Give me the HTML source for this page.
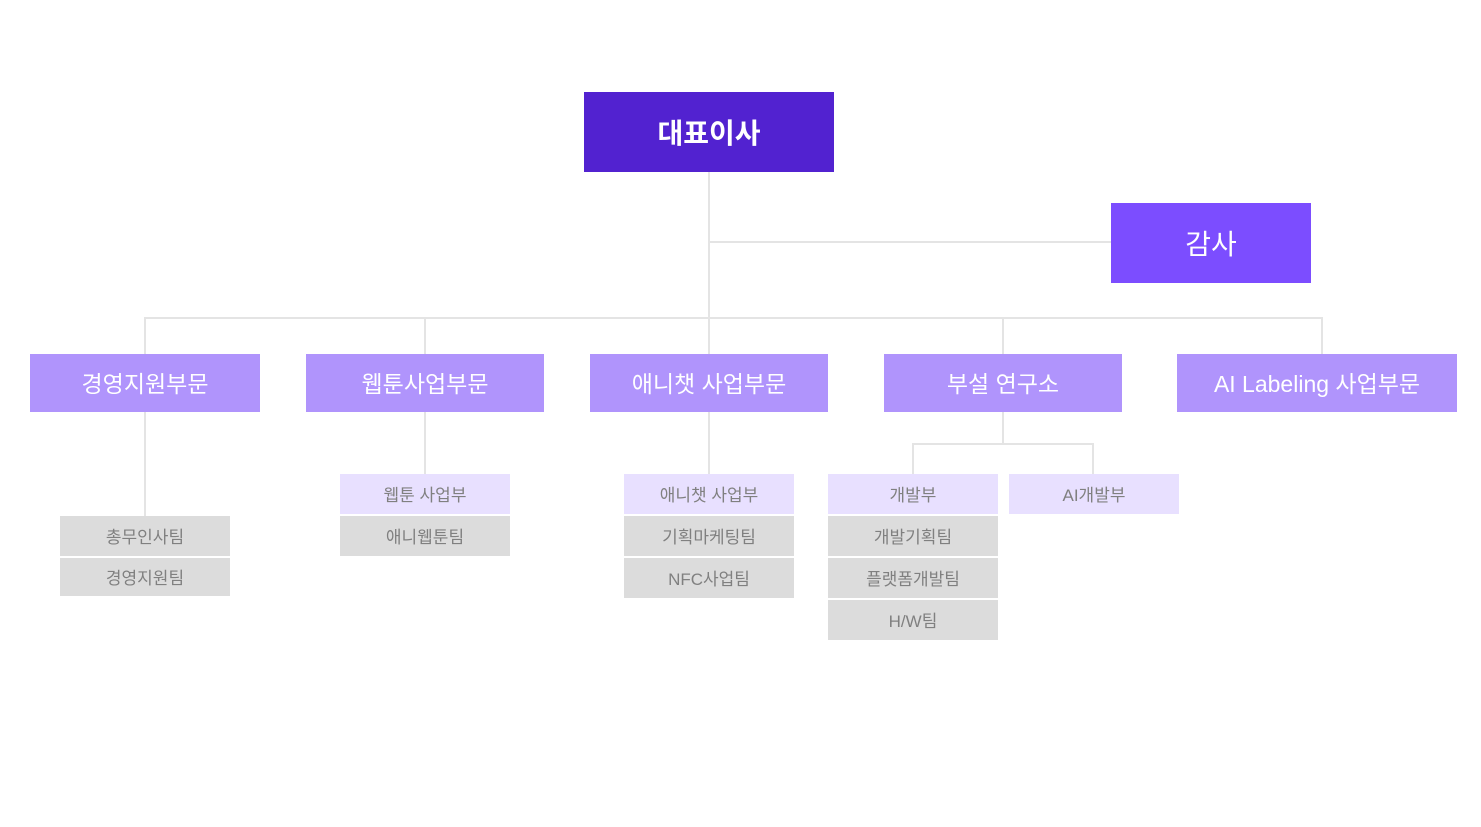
<!DOCTYPE html>
<html><head><meta charset="utf-8"><style>
body{margin:0;width:1481px;height:827px;background:#fff;position:relative;overflow:hidden;font-family:"Liberation Sans","Noto Sans CJK KR",sans-serif}
div{position:absolute;box-sizing:border-box}
.l{background:#e4e4e4}
.b{display:flex;align-items:center;justify-content:center;color:#fff}
.m{background:#b094fc;font-size:23px;height:58px;top:354px;padding-bottom:3px}
.s{font-size:17px;color:#808080;height:40px;width:170px;padding-bottom:2px}
.p{background:#e8e0ff}
.g{background:#dcdcdc}
</style></head><body>
<div class="l" style="left:708px;top:172px;width:2px;height:182px"></div>
<div class="l" style="left:709px;top:241px;width:402px;height:2px"></div>
<div class="l" style="left:144px;top:317px;width:1179px;height:2px"></div>
<div class="l" style="left:144px;top:317px;width:2px;height:37px"></div>
<div class="l" style="left:424px;top:317px;width:2px;height:37px"></div>
<div class="l" style="left:1002px;top:317px;width:2px;height:37px"></div>
<div class="l" style="left:1321px;top:317px;width:2px;height:37px"></div>
<div class="l" style="left:144px;top:412px;width:2px;height:104px"></div>
<div class="l" style="left:424px;top:412px;width:2px;height:62px"></div>
<div class="l" style="left:708px;top:412px;width:2px;height:62px"></div>
<div class="l" style="left:1002px;top:412px;width:2px;height:32px"></div>
<div class="l" style="left:912px;top:443px;width:182px;height:2px"></div>
<div class="l" style="left:912px;top:443px;width:2px;height:31px"></div>
<div class="l" style="left:1092px;top:443px;width:2px;height:31px"></div>

<div class="b" style="left:584px;top:92px;width:250px;height:80px;background:#5222d0;font-size:28px;font-weight:bold">대표이사</div>
<div class="b" style="left:1111px;top:203px;width:200px;height:80px;background:#7c4dff;font-size:28px">감사</div>

<div class="b m" style="left:30px;width:230px">경영지원부문</div>
<div class="b m" style="left:306px;width:238px">웹툰사업부문</div>
<div class="b m" style="left:590px;width:238px">애니챗 사업부문</div>
<div class="b m" style="left:884px;width:238px">부설 연구소</div>
<div class="b m" style="left:1177px;width:280px">AI Labeling 사업부문</div>

<div class="b s g" style="left:60px;top:516px">총무인사팀</div>
<div class="b s g" style="left:60px;top:558px;height:38px">경영지원팀</div>

<div class="b s p" style="left:340px;top:474px">웹툰 사업부</div>
<div class="b s g" style="left:340px;top:516px">애니웹툰팀</div>

<div class="b s p" style="left:624px;top:474px">애니챗 사업부</div>
<div class="b s g" style="left:624px;top:516px">기획마케팅팀</div>
<div class="b s g" style="left:624px;top:558px">NFC사업팀</div>

<div class="b s p" style="left:828px;top:474px">개발부</div>
<div class="b s g" style="left:828px;top:516px">개발기획팀</div>
<div class="b s g" style="left:828px;top:558px">플랫폼개발팀</div>
<div class="b s g" style="left:828px;top:600px">H/W팀</div>
<div class="b s p" style="left:1009px;top:474px">AI개발부</div>
</body></html>
